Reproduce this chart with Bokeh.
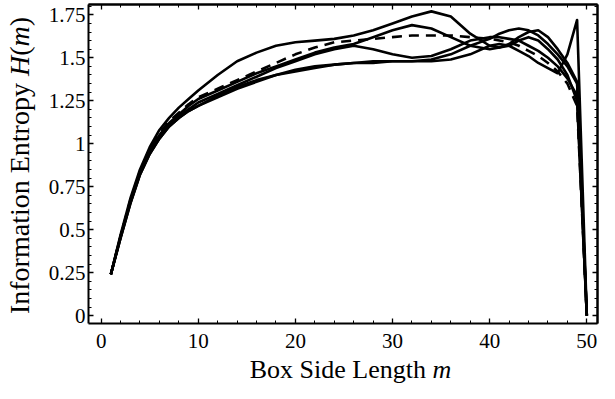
import math
from bokeh.plotting import figure
from bokeh.models import Range1d, FixedTicker, LinearAxis, Label
from bokeh.embed import file_html
from bokeh.resources import INLINE

# ---- data ----
m = [1, 2, 3, 4, 5, 6, 7, 8, 9, 10, 12, 14, 16, 18, 20, 22, 24, 26, 28, 30,
     32, 34, 36, 38, 40, 41, 42, 43, 44, 45, 46, 47, 48, 49, 50]

s1 = [0.24, 0.47, 0.68, 0.85, 0.98, 1.08, 1.15, 1.21, 1.26, 1.31, 1.40, 1.48, 1.53, 1.57, 1.59, 1.60, 1.61, 1.63, 1.66, 1.70,
      1.74, 1.77, 1.74, 1.64, 1.57, 1.56, 1.57, 1.60, 1.62, 1.60, 1.55, 1.49, 1.40, 1.25, 0.0]
s2 = [0.24, 0.46, 0.66, 0.83, 0.96, 1.05, 1.12, 1.17, 1.22, 1.26, 1.31, 1.36, 1.41, 1.45, 1.49, 1.53, 1.56, 1.58, 1.62, 1.66,
      1.69, 1.67, 1.62, 1.57, 1.55, 1.56, 1.58, 1.62, 1.65, 1.66, 1.62, 1.55, 1.47, 1.36, 0.0]
s3 = [0.24, 0.46, 0.66, 0.83, 0.95, 1.04, 1.11, 1.16, 1.20, 1.24, 1.29, 1.34, 1.39, 1.44, 1.48, 1.52, 1.55, 1.57, 1.55, 1.52,
      1.50, 1.51, 1.55, 1.60, 1.62, 1.62, 1.61, 1.60, 1.57, 1.54, 1.50, 1.45, 1.38, 1.28, 0.0]
s4 = [0.24, 0.45, 0.65, 0.82, 0.94, 1.03, 1.10, 1.15, 1.19, 1.22, 1.28, 1.33, 1.37, 1.40, 1.43, 1.45, 1.46, 1.47, 1.48, 1.48,
      1.48, 1.49, 1.52, 1.57, 1.61, 1.64, 1.66, 1.67, 1.66, 1.63, 1.58, 1.52, 1.45, 1.35, 0.0]
s5 = [0.24, 0.45, 0.65, 0.82, 0.94, 1.03, 1.10, 1.15, 1.19, 1.22, 1.27, 1.32, 1.36, 1.40, 1.42, 1.44, 1.46, 1.47, 1.47, 1.48,
      1.48, 1.48, 1.49, 1.52, 1.57, 1.58, 1.57, 1.54, 1.51, 1.47, 1.44, 1.41, 1.52, 1.72, 0.0]
dashed = [0.24, 0.46, 0.67, 0.84, 0.97, 1.06, 1.13, 1.18, 1.23, 1.27, 1.32, 1.37, 1.42, 1.47, 1.52, 1.56, 1.59, 1.60, 1.61, 1.62,
          1.63, 1.63, 1.63, 1.62, 1.61, 1.60, 1.59, 1.57, 1.54, 1.51, 1.47, 1.42, 1.35, 1.22, 0.0]

x_ticks = [0, 10, 20, 30, 40, 50]
x_minor = list(range(0, 52, 2))
y_ticks = [0, 0.25, 0.5, 0.75, 1.0, 1.25, 1.5, 1.75]
y_tick_labels = ["0", "0.25", "0.5", "0.75", "1", "1.25", "1.5", "1.75"]
y_minor = [round(0.05 * i, 2) for i in range(0, 37)]

x_label_parts = [("Box Side Length", "normal", 6.778), (" ", "normal", 0.25), ("m", "italic", 0.722)]
y_label_parts = [("Information Entropy", "normal", 8.249), (" ", "normal", 0.25), ("H", "italic", 0.722),
                 ("(", "normal", 0.333), ("m", "italic", 0.722), (")", "normal", 0.333)]

# ---- layout ----
FONT = "Liberation Serif"
X0, X1 = -1.3, 51.1          # visible plot box (data)
Y0, Y1 = -0.046, 1.81
W, H = 599, 383
FL, FR, FT, FB = 88, 597, 4, 323   # plot box edges in canvas px

PX = (X1 - X0) / (FR - FL)
PY = (Y1 - Y0) / (FB - FT)
XS, XE = X0 - FL * PX, X1 + (W - FR) * PX
YS, YE = Y0 - (H - FB) * PY, Y1 + FT * PY

def cx(px):
    return XS + px * PX

def cy(py):
    return YE - py * PY

p = figure(width=W, height=H, x_range=Range1d(XS, XE), y_range=Range1d(YS, YE),
           output_backend="svg", toolbar_location=None,
           x_axis_location=None, y_axis_location=None,
           min_border_left=0, min_border_right=0, min_border_top=0, min_border_bottom=0)
p.grid.visible = False
p.outline_line_color = None
p.background_fill_color = "white"
p.border_fill_color = "white"

bottom = LinearAxis(fixed_location=Y0, bounds=(X0, X1), ticker=FixedTicker(ticks=x_ticks, minor_ticks=x_minor))
top = LinearAxis(fixed_location=Y1, bounds=(X0, X1), ticker=FixedTicker(ticks=[], minor_ticks=x_minor))
top_major = LinearAxis(fixed_location=Y1, bounds=(X0, X1), ticker=FixedTicker(ticks=[], minor_ticks=x_ticks))
left = LinearAxis(fixed_location=X0, bounds=(Y0, Y1), ticker=FixedTicker(ticks=y_ticks, minor_ticks=y_minor),
                  major_label_overrides={t: l for t, l in zip(y_ticks, y_tick_labels)})
right = LinearAxis(fixed_location=X1, bounds=(Y0, Y1), ticker=FixedTicker(ticks=[], minor_ticks=y_minor))
right_major = LinearAxis(fixed_location=X1, bounds=(Y0, Y1), ticker=FixedTicker(ticks=[], minor_ticks=y_ticks))
p.add_layout(bottom, "below")
p.add_layout(top, "above")
p.add_layout(top_major, "above")
p.add_layout(left, "left")
p.add_layout(right, "right")
p.add_layout(right_major, "right")

for ax in (bottom, top, top_major, left, right, right_major):
    ax.major_tick_in = 5
    ax.major_tick_out = 0
    ax.minor_tick_in = 3
    ax.minor_tick_out = 0
    ax.axis_line_width = 2
    ax.axis_line_color = "black"
    ax.major_tick_line_color = "black"
    ax.minor_tick_line_color = "black"
    ax.major_tick_line_width = 1.3
    ax.minor_tick_line_width = 1
    ax.major_label_text_font = FONT
    ax.major_label_text_font_size = "21px"
    ax.major_label_text_color = "black"
for ax in (top_major, right_major):
    ax.minor_tick_in = 5
    ax.minor_tick_line_width = 1.3

bottom.major_label_standoff = 10
left.major_label_standoff = 3

for ys in (s1, s2, s3, s4, s5):
    p.line(m, ys, line_color="black", line_width=2.6, line_join="round")
p.line(m, dashed, line_color="black", line_width=2.6, line_dash="10 7")

# x axis label (composed, italic m)
fs = 26
total = sum(w for _, _, w in x_label_parts) * fs
start = 350 - total / 2
base = 369
for txt, style, w in x_label_parts:
    if txt.strip():
        p.add_layout(Label(x=cx(start), y=cy(base), text=txt,
                           text_font=FONT, text_font_size=f"{fs}px",
                           text_font_style=style, text_color="black", text_align="left",
                           text_baseline="alphabetic"))
    start += w * fs

# y axis label (rotated, composed)
fs = 28
total = sum(w for _, _, w in y_label_parts) * fs
start = 165 + total / 2
basex = 19
for txt, style, w in y_label_parts:
    if txt.strip():
        p.add_layout(Label(x=cx(basex), y=cy(start), text=txt,
                           text_font=FONT, text_font_size=f"{fs}px",
                           text_font_style=style, text_color="black", text_align="left",
                           text_baseline="alphabetic", angle=math.pi / 2))
    start -= w * fs

open("out.html", "w").write(file_html(p, INLINE))
